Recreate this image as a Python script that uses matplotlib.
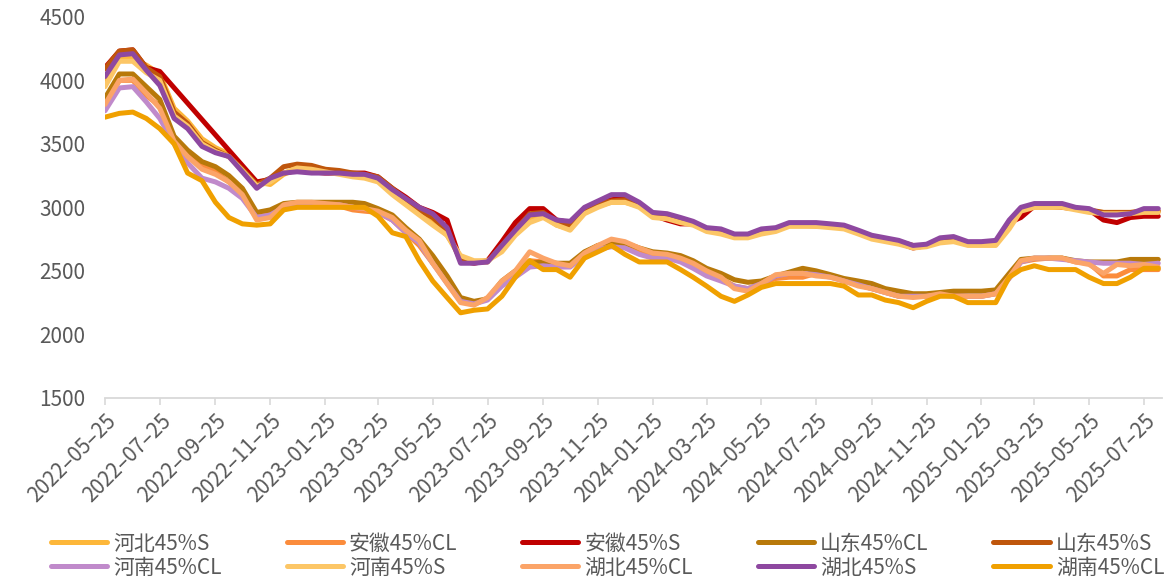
import numpy as np
import pandas as pd
import matplotlib
matplotlib.use("Agg")
import matplotlib.pyplot as plt
import matplotlib.dates as mdates

plt.rcParams['font.family'] = ['Noto Sans CJK SC', 'DejaVu Sans']

# semi-monthly sample dates (10th / 25th)
start = pd.Timestamp("2022-05-25")
dates = [start]
for m in pd.period_range("2022-06", "2025-07", freq="M"):
    dates.append(pd.Timestamp(year=m.year, month=m.month, day=10))
    dates.append(pd.Timestamp(year=m.year, month=m.month, day=25))
dates.append(pd.Timestamp("2025-08-10"))

nan = np.nan

hebei_s = [3980, 4180, 4170, 4120, 4050, 3780, 3680, 3540, 3470, 3420,
           3320, 3200, 3180, 3260, 3300, 3310, 3300, 3270, 3250, 3240,
           3210, 3120, 3030, 2950, 2880, 2780, 2600, 2570, 2580, 2680,
           2800, 2900, 2930, 2860, 2830, 2960, 3010, 3040, 3040, 3010,
           2930, 2920, 2890, 2870, 2820, 2800, 2770, 2770, 2800, 2820,
           2860, 2860, 2850, 2850, 2840, 2800, 2760, 2740, 2720, 2690,
           2700, 2730, 2740, 2710, 2710, 2710, 2850, 2980, 3000, 3000,
           3000, 2990, 2970, 2960, 2960, 2960, 2970, 2970]

anhui_cl = [3800, 4000, 4000, 3880, 3800, 3520, 3420, 3330, 3280, 3200,
            3100, 2920, 2950, 3000, 3030, 3030, 3020, 3010, 2980, 2970,
            2960, 2900, 2800, 2700, 2560, 2420, 2260, 2240, 2280, 2400,
            2480, 2580, 2570, 2550, 2550, 2640, 2700, 2720, 2700, 2640,
            2620, 2600, 2580, 2530, 2480, 2440, 2380, 2360, 2400, 2440,
            2450, 2450, 2480, 2460, 2420, 2390, 2360, 2330, 2300, 2300,
            2300, 2320, 2310, 2300, 2300, 2320, 2450, 2570, 2590, 2600,
            2600, 2570, 2560, 2460, 2460, 2510, 2510, 2510]

anhui_s = [4100, 4230, 4240, 4100, 4070, nan, nan, nan, nan, nan,
           nan, 3200, 3220, 3270, 3290, 3280, 3270, 3270, 3270, 3270,
           3240, 3150, 3080, 3000, 2960, 2900, 2580, 2560, 2580, 2730,
           2880, 2990, 2990, 2900, 2880, 2960, 3030, 3060, 3070, 3030,
           2940, 2900, 2870, 2870, 2830, 2810, 2780, 2770, 2800, 2830,
           2870, 2870, 2870, 2860, 2850, 2800, 2760, 2750, 2720, 2680,
           2700, 2750, 2760, 2720, 2720, 2720, 2880, 2920, 3010, 3010,
           3000, 2990, 2980, 2900, 2880, 2920, 2930, 2930]

shandong_cl = [3860, 4050, 4050, 3950, 3850, 3560, 3450, 3360, 3320, 3250,
               3150, 2960, 2980, 3030, 3040, 3040, 3040, 3040, 3040, 3030,
               2990, 2940, 2840, 2750, 2620, 2460, 2290, 2260, 2280, 2420,
               2500, 2560, 2570, 2560, 2560, 2650, 2700, 2710, 2720, 2680,
               2650, 2640, 2620, 2580, 2520, 2480, 2430, 2410, 2420, 2460,
               2490, 2520, 2500, 2470, 2440, 2420, 2400, 2360, 2340, 2320,
               2320, 2330, 2340, 2340, 2340, 2350, 2480, 2590, 2600, 2600,
               2600, 2580, 2570, 2570, 2570, 2590, 2590, 2590]

shandong_s = [4090, 4230, 4240, 4100, 4030, 3750, 3660, 3510, 3450, 3400,
              3300, 3180, 3230, 3320, 3340, 3330, 3300, 3290, 3270, 3260,
              3240, 3150, 3060, 2980, 2920, 2820, 2580, 2570, 2570, 2700,
              2820, 2950, 2960, 2880, 2860, 2960, 3030, 3050, 3060, 3030,
              2950, 2940, 2900, 2870, 2830, 2810, 2780, 2780, 2810, 2820,
              2860, 2870, 2870, 2860, 2850, 2810, 2770, 2750, 2730, 2700,
              2700, 2740, 2750, 2710, 2710, 2710, 2870, 2990, 3010, 3010,
              3010, 2990, 2980, 2960, 2960, 2960, 2970, 2970]

henan_cl = [3760, 3940, 3950, 3830, 3700, 3500, 3350, 3230, 3200, 3150,
            3070, 2920, 2940, 3000, 3030, 3030, 3020, 3020, 3000, 2990,
            2960, 2900, 2800, 2720, 2560, 2400, 2260, 2240, 2270, 2380,
            2450, 2530, 2540, 2530, 2530, 2620, 2670, 2690, 2680, 2630,
            2600, 2600, 2570, 2520, 2460, 2420, 2380, 2360, 2400, 2460,
            2480, 2480, 2470, 2450, 2420, 2390, 2360, 2330, 2300, 2300,
            2300, 2310, 2300, 2300, 2300, 2320, 2440, 2570, 2600, 2600,
            2590, 2580, 2570, 2560, 2560, 2560, 2550, 2560]

henan_s = [3950, 4150, 4150, 4060, 4000, 3720, 3640, 3500, 3440, 3400,
           3290, 3170, 3200, 3270, 3310, 3300, 3280, 3260, 3240, 3230,
           3200, 3100, 3020, 2940, 2860, 2780, 2620, 2580, 2580, 2650,
           2780, 2880, 2920, 2860, 2820, 2950, 3000, 3040, 3040, 3000,
           2920, 2910, 2880, 2860, 2810, 2790, 2760, 2760, 2790, 2810,
           2850, 2850, 2850, 2840, 2830, 2790, 2750, 2730, 2710, 2680,
           2690, 2720, 2730, 2700, 2700, 2700, 2830, 2970, 3000, 3000,
           3000, 2980, 2960, 2950, 2950, 2950, 2960, 2960]

hubei_cl = [3810, 4000, 4010, 3900, 3780, 3520, 3400, 3300, 3260, 3200,
            3100, 2900, 2920, 3020, 3040, 3040, 3030, 3020, 3000, 2990,
            2970, 2920, 2820, 2740, 2560, 2400, 2250, 2230, 2290, 2420,
            2500, 2650, 2600, 2560, 2540, 2640, 2700, 2750, 2730, 2680,
            2640, 2630, 2600, 2560, 2500, 2450, 2360, 2340, 2400, 2470,
            2480, 2480, 2460, 2450, 2420, 2380, 2360, 2330, 2300, 2290,
            2300, 2320, 2300, 2300, 2300, 2320, 2450, 2580, 2600, 2600,
            2600, 2570, 2550, 2480, 2550, 2540, 2550, 2530]

hubei_s = [4030, 4200, 4210, 4080, 3960, 3700, 3620, 3480, 3430, 3400,
           3280, 3150, 3230, 3270, 3280, 3270, 3270, 3270, 3260, 3260,
           3230, 3140, 3070, 3000, 2950, 2840, 2560, 2560, 2570, 2700,
           2820, 2940, 2950, 2900, 2890, 3000, 3050, 3100, 3100, 3040,
           2960, 2950, 2920, 2890, 2840, 2830, 2790, 2790, 2830, 2840,
           2880, 2880, 2880, 2870, 2860, 2820, 2780, 2760, 2740, 2700,
           2710, 2760, 2770, 2730, 2730, 2740, 2900, 3000, 3030, 3030,
           3030, 3000, 2990, 2940, 2940, 2950, 2990, 2990]

hunan_cl = [3710, 3740, 3750, 3700, 3620, 3500, 3270, 3210, 3040, 2920,
            2870, 2860, 2870, 2980, 3000, 3000, 3000, 3000, 3000, 3000,
            2930, 2800, 2770, 2580, 2420, 2290, 2170, 2190, 2200, 2300,
            2450, 2580, 2510, 2510, 2450, 2600, 2650, 2700, 2630, 2570,
            2570, 2570, 2510, 2450, 2380, 2300, 2260, 2310, 2370, 2400,
            2400, 2400, 2400, 2400, 2380, 2310, 2310, 2270, 2250, 2210,
            2260, 2300, 2300, 2250, 2250, 2250, 2450, 2510, 2540, 2510,
            2510, 2510, 2450, 2400, 2400, 2450, 2520, 2520]

names = ["河北45%S", "安徽45%CL", "安徽45%S", "山东45%CL", "山东45%S",
         "河南45%CL", "河南45%S", "湖北45%CL", "湖北45%S", "湖南45%CL"]
series = [hebei_s, anhui_cl, anhui_s, shandong_cl, shandong_s,
          henan_cl, henan_s, hubei_cl, hubei_s, hunan_cl]
colors = ["#FDB73A", "#FB8C3C", "#C00000", "#B8790A", "#BF560C",
          "#C08ACB", "#FCC666", "#FBA468", "#8E48A0", "#F0A000"]

fig = plt.figure(figsize=(11.73, 5.80), dpi=100)
ax = fig.add_axes([0.0895, 0.314, 0.901, 0.657])

handles = []
for name, vals, c in zip(names, series, colors):
    s = pd.Series(vals, index=dates, dtype=float).dropna()
    ln, = ax.plot(s.index, s.values, color=c, lw=3.6,
                  solid_joinstyle="round", solid_capstyle="round", label=name)
    handles.append(ln)

ax.set_ylim(1500, 4500)
ax.set_yticks(range(1500, 4501, 500))
ax.set_xlim(pd.Timestamp("2022-05-25"), pd.Timestamp("2025-08-14"))
ax.xaxis.set_major_locator(mdates.MonthLocator(bymonth=[1, 3, 5, 7, 9, 11], bymonthday=25))
ax.xaxis.set_major_formatter(mdates.DateFormatter("%Y–%m–%d"))

for sp in ["top", "right", "left"]:
    ax.spines[sp].set_visible(False)
ax.spines["bottom"].set_color("#D9D9D9")
ax.spines["bottom"].set_linewidth(1.3)
ax.tick_params(axis="y", length=0, labelsize=15, labelcolor="#595959", pad=14)
ax.tick_params(axis="x", length=5, color="#D9D9D9", width=1.2,
               labelsize=15, labelcolor="#595959")
for lab in ax.get_xticklabels() + ax.get_yticklabels():
    lab.set_fontweight("light")
for lab in ax.get_xticklabels():
    lab.set_rotation(45)
    lab.set_ha("right")
    lab.set_rotation_mode("anchor")

# legend fills row by row in the reference
order = [0, 5, 1, 6, 2, 7, 3, 8, 4, 9]
leg = fig.legend([handles[i] for i in order], [names[i] for i in order],
                 loc="lower center", bbox_to_anchor=(0.518, -0.03), ncol=5,
                 frameon=False, fontsize=15, handlelength=2.7,
                 handletextpad=0.3, columnspacing=3.1, labelspacing=0.1)
for t in leg.get_texts():
    t.set_color("#595959")
    t.set_fontweight("light")
for h in leg.get_lines():
    h.set_linewidth(3.6)

fig.savefig("out.png", dpi=100)
